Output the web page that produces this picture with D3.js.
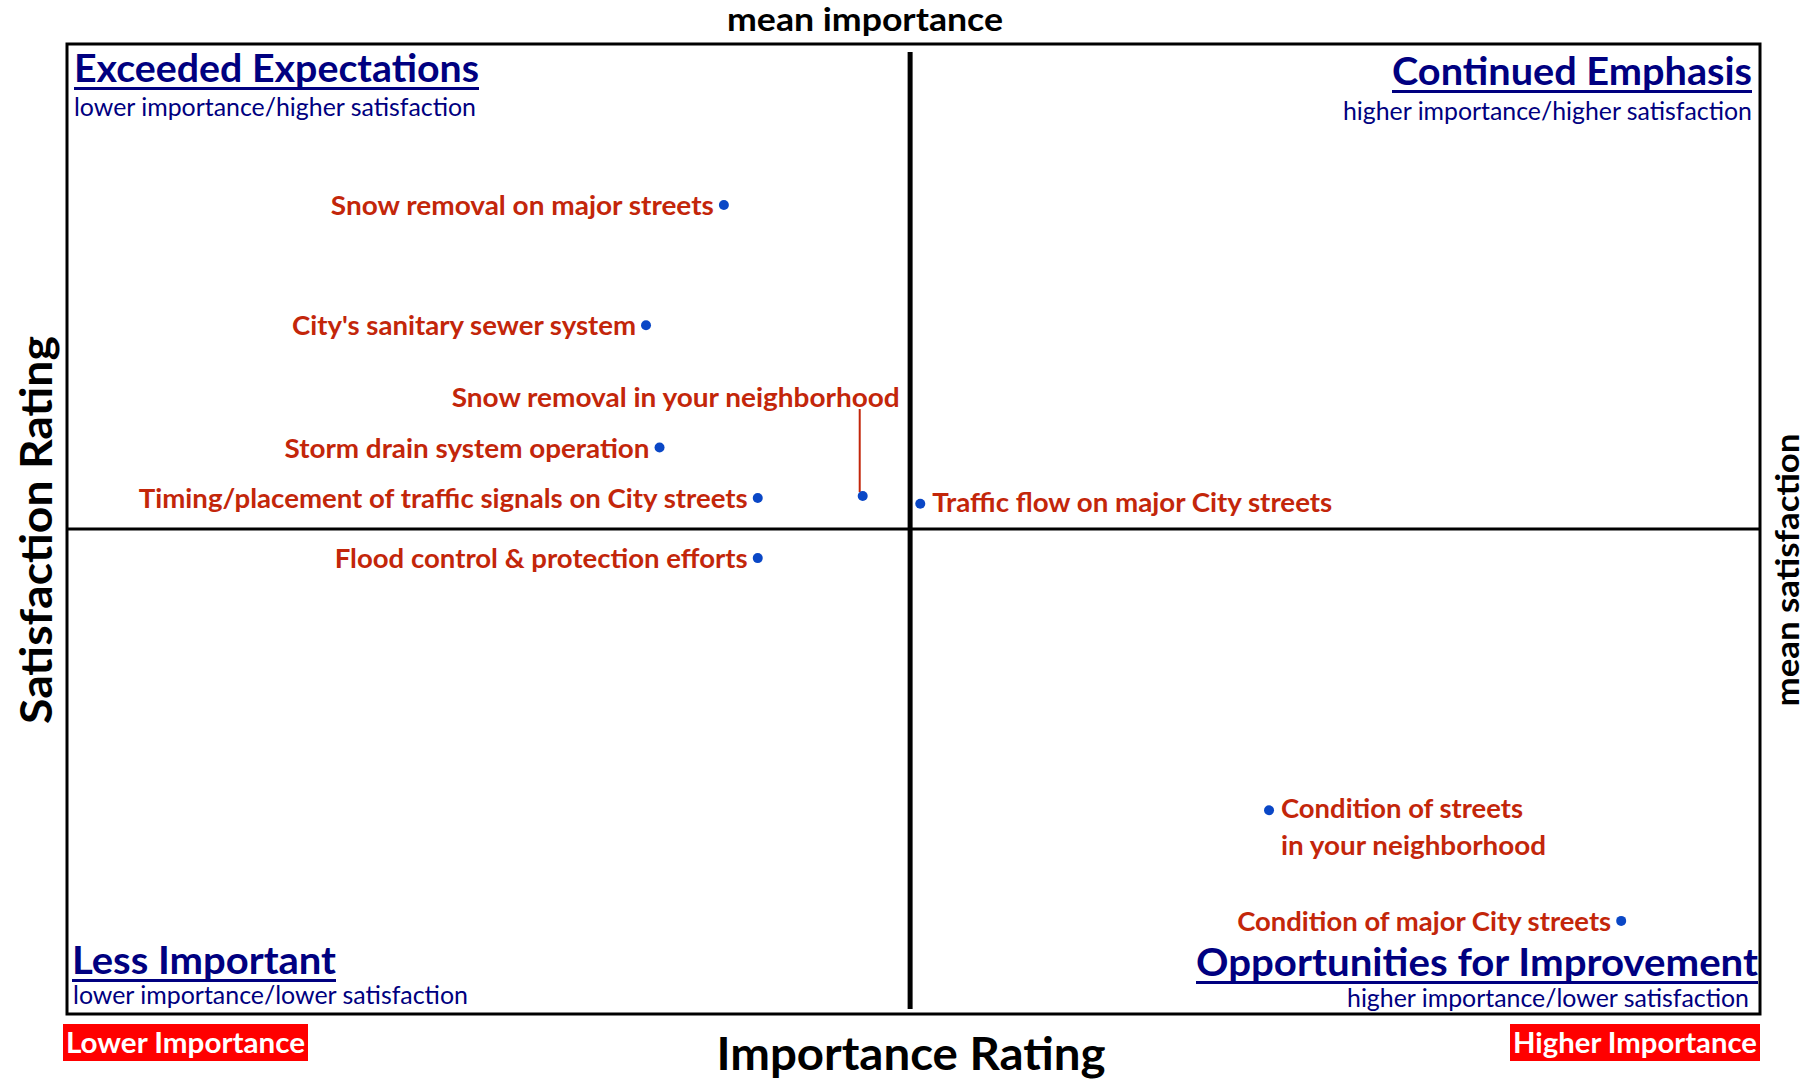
<!DOCTYPE html>
<html>
<head>
<meta charset="utf-8">
<script src="https://cdn.jsdelivr.net/npm/d3@7"></script>
<style>
  html, body { margin: 0; padding: 0; background: #fff; }
  svg { display: block; }
  text { font-family: Lato, "Open Sans", "DejaVu Sans", sans-serif; }
</style>
</head>
<body>
<svg id="chart" width="1816" height="1081"></svg>
<script>
// Services rated by residents: importance (%) vs satisfaction (%)
const services = [
  "Snow removal on major streets",
  "City's sanitary sewer system",
  "Snow removal in your neighborhood",
  "Storm drain system operation",
  "Timing/placement of traffic signals on City streets",
  "Flood control & protection efforts",
  "Traffic flow on major City streets",
  "Condition of streets in your neighborhood",
  "Condition of major City streets"
];
const importance   = [24.4, 22.1, 28.5, 22.5, 25.4, 25.4, 30.2, 40.5, 50.9];
const satisfaction = [71.7, 65.5, 56.7, 59.2, 56.6, 53.5, 56.3, 40.5, 34.8];
const meanImportance = 29.9;
const meanSatisfaction = 55.0;

// Quadrant headings
const quadrantTitles = ["Exceeded Expectations", "Continued Emphasis", "Less Important", "Opportunities for Improvement"];
const quadrantNotes = [
  "lower importance/higher satisfaction",
  "higher importance/higher satisfaction",
  "lower importance/lower satisfaction",
  "higher importance/lower satisfaction"
];

const svg = d3.select("#chart");
const frame = { left: 67, top: 44, right: 1760, bottom: 1014 };

const x = d3.scaleLinear().domain([5, 55]).range([frame.left, frame.right]);
const y = d3.scaleLinear().domain([30, 80]).range([frame.bottom, frame.top]);

const NAVY = "#000080";
const LABEL = "#c3260a";
const DOT = "#0a47c6";

function txt(g, px, py, str, o) {
  const t = g.append("text")
    .attr("x", px).attr("y", py)
    .attr("font-size", o.size)
    .attr("font-weight", o.weight || "normal")
    .attr("fill", o.fill || "#000")
    .attr("text-anchor", o.anchor || "start")
    .attr("dominant-baseline", o.baseline || "alphabetic")
    .text(str);
  if (o.width) t.attr("textLength", o.width).attr("lengthAdjust", "spacingAndGlyphs");
  if (o.rotate) t.attr("transform", `rotate(${o.rotate},${px},${py})`);
  return t;
}

// Mean lines
svg.append("line")
  .attr("x1", frame.left).attr("x2", frame.right)
  .attr("y1", y(meanSatisfaction)).attr("y2", y(meanSatisfaction))
  .attr("stroke", "#000").attr("stroke-width", 3);
svg.append("line")
  .attr("x1", x(meanImportance)).attr("x2", x(meanImportance))
  .attr("y1", frame.top + 8).attr("y2", frame.bottom - 5)
  .attr("stroke", "#000").attr("stroke-width", 5);

// Plot frame
svg.append("rect")
  .attr("x", frame.left).attr("y", frame.top)
  .attr("width", frame.right - frame.left).attr("height", frame.bottom - frame.top)
  .attr("fill", "none").attr("stroke", "#000").attr("stroke-width", 3);

// Quadrant headings with underlines
const q = svg.append("g");
const qLayout = [
  { x: 74,   y: 82,  anchor: "start", w: 405, nx: 74,   ny: 116, nw: 402 },
  { x: 1752, y: 85,  anchor: "end",   w: 360, nx: 1752, ny: 120, nw: 409 },
  { x: 72,   y: 974, anchor: "start", w: 264, nx: 73,   ny: 1004, nw: 395 },
  { x: 1758, y: 976, anchor: "end",   w: 562, nx: 1749, ny: 1007, nw: 402 }
];
quadrantTitles.forEach((title, i) => {
  const L = qLayout[i];
  txt(q, L.x, L.y, title, { size: 39, weight: "bold", fill: NAVY, anchor: L.anchor, width: L.w });
  const x0 = L.anchor === "start" ? L.x : L.x - L.w;
  q.append("rect").attr("x", x0).attr("y", L.y + 5).attr("width", L.w).attr("height", 3).attr("fill", NAVY);
  txt(q, L.nx, L.ny, quadrantNotes[i], { size: 25, fill: NAVY, anchor: L.anchor, width: L.nw });
});

// Axis titles
txt(svg, 865, 31, "mean importance", { size: 32, weight: "bold", anchor: "middle", width: 276 });
txt(svg, 911, 1070, "Importance Rating", { size: 45, weight: "bold", anchor: "middle", width: 389 });
txt(svg, 52, 530, "Satisfaction Rating", { size: 43, weight: "bold", anchor: "middle", width: 388, rotate: -90 });
txt(svg, 1799, 570, "mean satisfaction", { size: 32, weight: "bold", anchor: "middle", width: 273, rotate: -90 });

// Red end markers below the frame
const ends = [
  { label: "Lower Importance",  x0: 63,   x1: 308 },
  { label: "Higher Importance", x0: 1510, x1: 1760 }
];
ends.forEach(e => {
  svg.append("rect").attr("x", e.x0).attr("y", 1024).attr("width", e.x1 - e.x0).attr("height", 37).attr("fill", "#ff0000");
  txt(svg, (e.x0 + e.x1) / 2, 1053, e.label, { size: 29, weight: "bold", fill: "#fff", anchor: "middle", width: e.x1 - e.x0 - 6 });
});

// Point labels: side of the point, and fitted widths per text line
const labelLayout = [
  { side: "left",  w: [383] },
  { side: "left",  w: [344] },
  { side: "above", w: [448] },
  { side: "left",  w: [365] },
  { side: "left",  w: [609] },
  { side: "left",  w: [413] },
  { side: "right", w: [400] },
  { side: "right", w: [242, 265], lines: ["Condition of streets", "in your neighborhood"] },
  { side: "left",  w: [374] }
];

const pts = svg.append("g");
services.forEach((name, i) => {
  const cx = x(importance[i]), cy = y(satisfaction[i]);
  const L = labelLayout[i];
  if (L.side === "left") {
    txt(pts, cx - 10, cy, name, { size: 26, weight: "bold", fill: LABEL, anchor: "end", baseline: "central", width: L.w[0] });
  } else if (L.side === "right") {
    const lines = L.lines || [name];
    lines.forEach((ln, k) => {
      txt(pts, cx + 12, cy - 2 + k * 37, ln, { size: 26, weight: "bold", fill: LABEL, anchor: "start", baseline: "central", width: L.w[k] });
    });
  } else {
    // label placed above, joined to its point by a leader line
    const ly = cy - 99;
    txt(pts, cx + 37, ly, name, { size: 26, weight: "bold", fill: LABEL, anchor: "end", baseline: "central", width: L.w[0] });
    pts.append("line")
      .attr("x1", cx - 3).attr("x2", cx - 3)
      .attr("y1", ly + 12).attr("y2", cy - 4)
      .attr("stroke", LABEL).attr("stroke-width", 2);
  }
  pts.append("circle").attr("cx", cx).attr("cy", cy).attr("r", 5).attr("fill", DOT);
});
</script>
</body>
</html>
